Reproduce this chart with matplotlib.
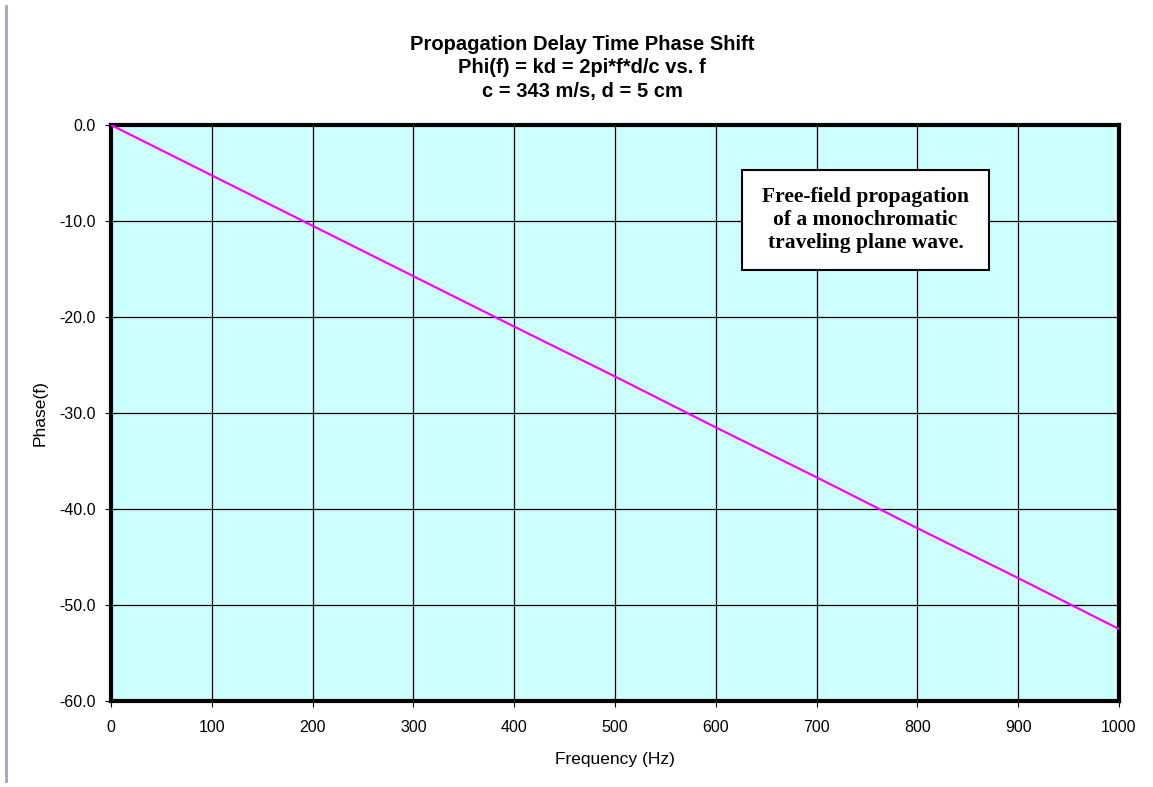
import matplotlib.pyplot as plt
from matplotlib.lines import Line2D
from matplotlib.patches import Rectangle

# Phase shift (degrees)
freq = [0, 100, 200, 300, 400, 500, 600, 700, 800, 900, 1000]
phase = [0.0, -5.25, -10.5, -15.75, -21.0, -26.2, -31.5, -36.7, -42.0, -47.2, -52.5]

x_ticks = [0, 100, 200, 300, 400, 500, 600, 700, 800, 900, 1000]
y_ticks = [0, -10, -20, -30, -40, -50, -60]

fig = plt.figure(figsize=(11.53, 7.87), dpi=100)
ax = fig.add_axes([0.0963, 0.1093, 0.8742, 0.7319])
ax.set_facecolor('#CCFFFF')

ax.plot(freq, phase, color='#FF00FF', linewidth=1.6, zorder=3)

ax.set_xlim(0, 1000)
ax.set_ylim(-60, 0)
ax.set_xticks(x_ticks)
ax.set_yticks(y_ticks)
ax.set_yticklabels([f'{v:.1f}' for v in y_ticks])
ax.grid(True, color='black', linewidth=0.9)
ax.set_axisbelow(True)
for s in ax.spines.values():
    s.set_linewidth(3)
ax.tick_params(direction='out', length=4, width=0.8, labelsize=11.5)
ax.tick_params(axis='x', pad=10)
ax.tick_params(axis='y', pad=7)
for lab in ax.get_xticklabels() + ax.get_yticklabels():
    lab.set_fontfamily('Liberation Sans')

ax.set_xlabel('Frequency (Hz)', fontfamily='Liberation Sans', fontsize=12.5, labelpad=12)
ax.set_ylabel('Phase(f)', fontfamily='Liberation Sans', fontsize=12.5, labelpad=8)

fig.text(0.505, 0.9136, 'Propagation Delay Time Phase Shift\nPhi(f) = kd = 2pi*f*d/c vs. f\nc = 343 m/s, d = 5 cm',
         ha='center', va='center', fontfamily='Liberation Sans', fontweight='bold',
         fontsize=14.5, linespacing=1.3)

ax.add_patch(Rectangle((0.626, 0.748), 0.245, 0.174, transform=ax.transAxes,
                       facecolor='white', edgecolor='black', linewidth=1.5, zorder=4))
ax.text(0.7485, 0.835, 'Free-field propagation\nof a monochromatic\ntraveling plane wave.',
        transform=ax.transAxes, ha='center', va='center', fontfamily='Liberation Serif',
        fontweight='bold', fontsize=15.5, linespacing=1.2, zorder=5)

fig.add_artist(Line2D([0.005, 0.005], [0.008, 0.992], transform=fig.transFigure,
                      color='#A0A8C0', linewidth=2))

fig.savefig('out.png', dpi=100)
